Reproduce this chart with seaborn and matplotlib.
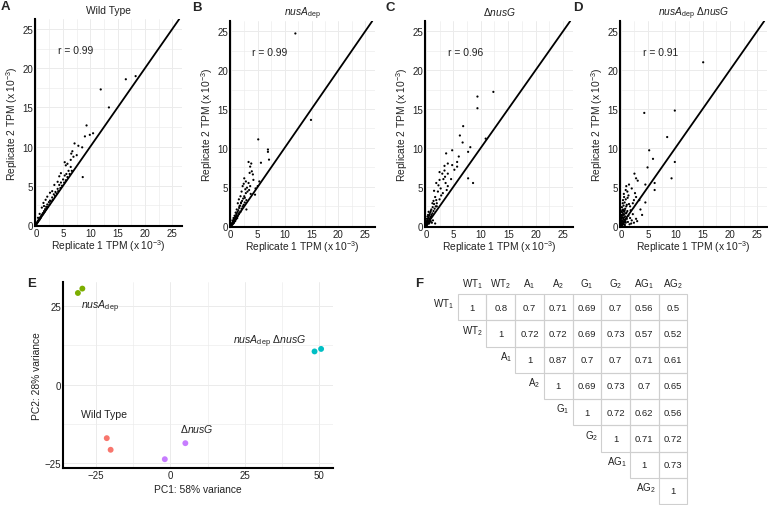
import numpy as np
import pandas as pd
import matplotlib
matplotlib.use('Agg')
import matplotlib.pyplot as plt
import seaborn as sns
from matplotlib.colors import ListedColormap
from matplotlib.patches import Rectangle
from matplotlib.ticker import MultipleLocator

sns.set_theme(style='white')
plt.rcParams['font.family'] = ['Liberation Sans', 'DejaVu Sans']
plt.rcParams['mathtext.fontset'] = 'custom'
plt.rcParams['mathtext.rm'] = 'Liberation Sans'
plt.rcParams['mathtext.it'] = 'Liberation Sans:italic'
plt.rcParams['mathtext.bf'] = 'Liberation Sans:bold'

# ---------------- data: replicate scatter (TPM x 10^-3) ----------------
wt_x = [0.05,0.1,0.15,0.2,0.25,0.3,0.35,0.4,0.45,0.5,0.55,0.6,0.65,0.7,0.75,0.8,0.85,0.9,0.95,1.0,
        1.1,1.2,1.3,1.4,1.5,1.6,1.7,1.8,1.9,2.0,2.1,2.2,2.4,2.5,2.6,2.8,3.0,3.1,3.3,3.5,3.6,3.8,
        4.0,4.1,4.3,4.5,4.6,4.8,5.0,5.2,5.3,5.5,5.6,5.8,6.0,6.2,6.4,6.6,6.7,6.9,7.1,7.5,7.8,8.5,
        8.6,9.0,9.3,9.9,10.5,11.9,13.4,16.5,18.3,5.3,5.5,5.8,6.4,6.5,4.6,4.3,4.0,3.4,3.0,2.1,1.4,
        2.6,1.8,1.1,0.7,0.4,1.5]
wt_y = [0.08,0.15,0.12,0.25,0.3,0.28,0.45,0.38,0.55,0.5,0.65,0.6,0.75,0.68,0.85,0.8,1.0,0.9,1.1,1.05,
        1.3,1.25,1.5,1.45,1.75,1.65,2.0,1.9,2.3,2.1,2.6,2.3,2.9,2.6,3.1,3.0,3.5,3.2,3.9,3.7,4.2,4.0,
        4.6,4.3,5.1,4.7,5.4,5.0,5.8,5.4,6.3,5.7,6.5,6.1,6.9,6.5,7.4,6.9,9.4,8.7,10.4,8.9,10.1,9.9,
        6.1,11.3,12.7,11.5,11.7,17.3,15.0,18.6,19.0,8.0,7.6,7.8,8.3,9.1,6.6,6.2,5.5,5.1,4.3,3.6,2.8,
        4.1,3.2,2.2,1.4,0.9,2.4]

nusa_x = [0.05,0.1,0.15,0.2,0.25,0.3,0.35,0.4,0.45,0.5,0.55,0.6,0.65,0.7,0.75,0.8,0.85,0.9,0.95,1.0,
          1.05,1.1,1.2,1.25,1.3,1.4,1.5,1.55,1.6,1.7,1.8,1.9,2.0,2.1,2.2,2.3,2.4,2.5,2.6,2.8,2.9,
          0.3,0.5,0.7,0.9,12.0,14.9,5.1,6.9,6.9,7.1,5.6,3.3,3.8,3.6,3.9,3.5,4.1,2.5,2.8,3.3,3.6,
          2.2,2.7,3.1,4.5,5.3,5.0,1.1,1.6,1.9,2.9,3.0,2.4,2.0,1.8,1.5,1.3,2.6,3.4,4.2,4.6,3.7,1.2,0.8,
          0.2,0.4,0.6,0.8,1.0,0.15,0.35,0.55]
nusa_y = [0.1,0.15,0.1,0.3,0.2,0.4,0.3,0.55,0.4,0.6,0.5,0.8,0.6,0.9,0.7,1.1,0.8,1.2,0.9,1.4,
          1.0,1.6,1.2,1.8,1.3,2.0,1.5,2.3,1.7,2.6,1.8,2.9,2.2,3.2,2.5,3.5,2.7,3.8,3.0,4.2,3.3,
          0.7,1.0,1.3,1.7,24.7,13.6,11.1,9.8,9.5,8.5,8.1,8.2,8.0,7.6,7.0,6.8,6.6,6.1,5.7,5.5,5.1,
          5.1,4.7,4.4,4.0,5.7,5.1,2.1,2.5,3.0,2.1,4.9,5.4,4.4,3.8,3.4,2.9,3.6,4.6,5.9,4.8,4.1,1.0,0.6,
          0.15,0.35,0.45,0.65,0.85,0.25,0.2,0.35]

nusg_x = [0.05,0.1,0.15,0.2,0.25,0.3,0.35,0.4,0.45,0.5,0.55,0.6,0.65,0.7,0.75,0.8,0.85,0.9,0.95,1.0,
          1.05,1.1,1.2,1.25,1.3,1.4,1.5,1.6,1.7,1.8,1.9,2.0,0.2,0.4,0.6,0.9,0.3,0.5,
          12.3,9.4,9.4,6.8,6.2,6.7,8.1,7.7,4.8,3.7,6.0,4.0,5.7,5.7,4.8,3.4,3.4,2.5,3.0,4.0,3.5,
          2.5,1.9,3.6,2.7,2.2,4.0,3.1,1.7,2.5,1.2,2.0,7.7,8.6,10.9,3.2,2.3,1.5,2.8,1.4,3.8,4.6,5.2,
          0.1,0.25,0.45,0.7,0.15,0.35]
nusg_y = [0.1,0.3,0.1,0.5,0.25,0.7,0.4,0.9,0.5,1.1,0.6,1.3,0.8,1.5,0.9,1.7,1.1,1.9,1.2,2.1,
          1.4,0.4,1.6,2.4,0.7,1.9,2.8,2.2,0.3,2.5,3.3,2.9,0.9,1.4,0.3,0.6,1.2,1.8,
          17.2,16.6,15.1,12.8,11.6,10.7,10.1,9.5,9.7,9.3,8.9,8.0,8.2,7.6,7.8,7.7,7.1,6.9,6.7,6.7,6.3,
          5.9,5.5,5.5,4.8,4.4,5.1,4.2,3.7,3.4,2.9,2.5,6.1,5.5,11.2,6.0,5.2,4.5,3.9,3.2,4.6,6.0,7.2,
          0.2,0.15,0.3,0.45,0.6,0.55]

dbl_x = [0.05,0.1,0.15,0.2,0.25,0.3,0.35,0.4,0.45,0.5,0.55,0.6,0.65,0.7,0.75,0.8,0.85,0.9,0.95,1.0,
         1.1,1.2,1.3,1.4,1.5,1.6,1.7,1.8,2.0,2.2,2.4,0.1,0.2,0.3,0.4,0.5,0.6,0.7,0.8,0.9,0.35,0.15,
         1.1,1.25,0.55,0.75,1.9,2.8,3.0,0.05,0.1,0.2,0.3,0.45,0.65,0.25,0.5,0.85,1.05,0.4,0.6,
         15.1,4.3,9.9,8.5,5.2,5.9,4.9,9.9,9.3,6.2,6.2,4.5,4.5,2.5,2.8,3.1,1.5,2.0,0.9,1.4,0.6,2.8,
         3.4,2.2,1.2,2.6,3.6,1.0,1.7,3.9,2.4]
dbl_y = [0.2,0.5,0.9,1.3,0.3,1.7,0.6,2.1,1.0,2.6,1.4,0.2,1.8,3.0,0.8,2.2,1.2,0.4,1.6,2.5,
         0.9,1.9,0.5,1.3,2.8,0.2,1.0,2.0,0.7,1.5,0.4,1.1,2.4,0.1,3.3,0.8,1.5,2.0,0.5,3.4,2.9,1.8,
         2.7,3.6,4.1,0.1,0.3,0.9,0.6,0.6,1.4,0.7,1.1,0.3,0.5,2.0,1.9,0.6,1.7,1.5,1.1,
         21.0,14.5,14.8,11.4,9.7,8.6,7.5,8.2,6.1,5.5,4.6,5.3,3.0,6.7,6.1,5.8,5.3,4.8,4.6,3.9,3.7,3.7,
         3.3,2.9,4.4,4.2,2.1,5.1,2.5,1.4,3.3]

panel_titles = ['Wild Type', r'$\it{nusA}_{\rm dep}$', r'$\Delta\it{nusG}$',
                r'$\it{nusA}_{\rm dep}\ \Delta\it{nusG}$']
panel_r = ['r = 0.99', 'r = 0.99', 'r = 0.96', 'r = 0.91']
panel_letters = ['A', 'B', 'C', 'D']
scatter_x = [wt_x, nusa_x, nusg_x, dbl_x]
scatter_y = [wt_y, nusa_y, nusg_y, dbl_y]

# ---------------- data: PCA ----------------
pc_group = ['Wild Type', 'Wild Type', 'nusA', 'nusA', 'nusG', 'nusG', 'AG', 'AG']
pc1 = [-21.4, -20.1, -31.1, -29.6, -1.9, 5.0, 48.4, 50.6]
pc2 = [-17.0, -20.7, 29.2, 30.6, -23.7, -18.6, 10.6, 11.4]
group_colors = {'Wild Type': '#F8766D', 'nusA': '#7CAE00', 'AG': '#00BFC4', 'nusG': '#C77CFF'}

# ---------------- data: correlation table ----------------
corr_labels = ['WT$_1$', 'WT$_2$', 'A$_1$', 'A$_2$', 'G$_1$', 'G$_2$', 'AG$_1$', 'AG$_2$']
corr_rows = [
    [1, 0.8, 0.7, 0.71, 0.69, 0.7, 0.56, 0.5],
    [None, 1, 0.72, 0.72, 0.69, 0.73, 0.57, 0.52],
    [None, None, 1, 0.87, 0.7, 0.7, 0.71, 0.61],
    [None, None, None, 1, 0.69, 0.73, 0.7, 0.65],
    [None, None, None, None, 1, 0.72, 0.62, 0.56],
    [None, None, None, None, None, 1, 0.71, 0.72],
    [None, None, None, None, None, None, 1, 0.73],
    [None, None, None, None, None, None, None, 1],
]

W, H = 768, 506
fig = plt.figure(figsize=(W / 100, H / 100), dpi=100)
fig.patch.set_facecolor('white')


def rect(l, t, r, b):
    return [l / W, 1 - b / H, (r - l) / W, (b - t) / H]


GRID = '#ebebeb'
TXT = '#222222'


def style_axes(ax):
    for s in ['top', 'right']:
        ax.spines[s].set_visible(False)
    for s in ['left', 'bottom']:
        ax.spines[s].set_visible(True)
        ax.spines[s].set_color('black')
        ax.spines[s].set_linewidth(1.5)
    ax.grid(True, which='major', color=GRID, lw=0.7)
    ax.grid(True, which='minor', color=GRID, lw=0.45)
    ax.set_axisbelow(True)
    ax.tick_params(which='both', length=0, labelsize=7, pad=1.5, colors=TXT)
    ax.set_facecolor('white')


boxes = [(35, 20, 182, 227), (230, 22, 375, 228), (425, 22, 573, 228), (620, 22, 767, 228)]
letter_pos = [(1, 7), (192, 8), (385, 8), (573, 8)]
for i in range(4):
    l, t, r, b = boxes[i]
    ax = fig.add_axes(rect(l, t, r, b))
    df = pd.DataFrame({'x': scatter_x[i], 'y': scatter_y[i]})
    sns.scatterplot(data=df, x='x', y='y', ax=ax, s=2.5, color='black', linewidth=0, edgecolor='none')
    ax.axline((0, 0), slope=1, color='black', lw=1.3)
    ax.set_xlim(-0.15, 26.8)
    ax.set_ylim(-0.15, 26.3)
    ax.xaxis.set_major_locator(MultipleLocator(5))
    ax.yaxis.set_major_locator(MultipleLocator(5))
    ax.xaxis.set_minor_locator(MultipleLocator(2.5))
    ax.yaxis.set_minor_locator(MultipleLocator(2.5))
    style_axes(ax)
    ax.set_xlabel(r'Replicate 1 TPM (x 10$^{-3}$)', fontsize=7.4, color=TXT)
    ax.set_ylabel(r'Replicate 2 TPM (x 10$^{-3}$)', fontsize=7.4, color=TXT)
    ax.xaxis.set_label_coords(0.5, -11 / (b - t))
    ax.yaxis.set_label_coords(-15 / (r - l), 0.5)
    ax.set_title(panel_titles[i], fontsize=7.4, pad=4, color=TXT)
    ax.text(4.0, 22.3, panel_r[i], fontsize=7.4, ha='left', va='center', color=TXT)
    lx, ly = letter_pos[i]
    fig.text(lx / W, 1 - ly / H, panel_letters[i], fontsize=9.5, fontweight='bold', ha='left', va='center')

# ---------------- Panel E: PCA ----------------
axE = fig.add_axes(rect(63, 283, 333, 469))
pdf = pd.DataFrame({'PC1': pc1, 'PC2': pc2, 'group': pc_group})
sns.scatterplot(data=pdf, x='PC1', y='PC2', hue='group', palette=group_colors, s=18,
                linewidth=0, edgecolor='none', ax=axE, legend=False)
axE.set_xlim(-36.1, 54.6)
axE.set_ylim(-26.5, 32.7)
axE.xaxis.set_minor_locator(MultipleLocator(12.5))
axE.yaxis.set_minor_locator(MultipleLocator(12.5))
style_axes(axE)
axE.set_xticks([-25, 0, 25, 50])
axE.set_xticklabels(['\u221225', '0', '25', '50'])
axE.set_yticks([-25, 0, 25])
axE.set_yticklabels(['\u221225', '0', '25'])
axE.set_xlabel('PC1: 58% variance', fontsize=7.4, color=TXT)
axE.set_ylabel('PC2: 28% variance', fontsize=7.4, color=TXT)
axE.xaxis.set_label_coords(0.5, -16 / 186)
axE.yaxis.set_label_coords(-21 / 270, 0.5)
axE.text(-30.2, 25.2, r'$\it{nusA}_{\rm dep}$', fontsize=7.6, ha='left', va='center', color=TXT)
axE.text(-30.0, -9.2, 'Wild Type', fontsize=7.6, ha='left', va='center', color=TXT)
axE.text(8.7, -13.8, r'$\Delta\it{nusG}$', fontsize=7.6, ha='center', va='center', color=TXT)
axE.text(33.2, 14.1, r'$\it{nusA}_{\rm dep}\ \Delta\it{nusG}$', fontsize=7.6, ha='center', va='center', color=TXT)
fig.text(27 / W, 1 - 284 / H, 'E', fontsize=9.5, fontweight='bold', ha='left', va='center')

# ---------------- Panel F: correlation table ----------------
axF = fig.add_axes(rect(457.7, 295, 687.3, 505))
mat = np.array([[np.nan if v is None else v for v in row] for row in corr_rows], dtype=float)
cdf = pd.DataFrame(mat, index=corr_labels, columns=corr_labels)
mask = np.isnan(mat)
sns.heatmap(cdf, mask=mask, cmap=ListedColormap(['white']), annot=True, fmt='g', cbar=False,
            linewidths=0, ax=axF, annot_kws={'fontsize': 6.8, 'color': '#222222'})
n = len(corr_labels)
for i in range(n):
    for j in range(n):
        if not mask[i, j]:
            axF.add_patch(Rectangle((j, i), 1, 1, fill=False, edgecolor='#cfcfcf',
                                    lw=0.8, clip_on=False, zorder=3))
axF.set_xticks([])
axF.set_yticks([])
axF.set_xlabel('')
axF.set_ylabel('')
for s in axF.spines.values():
    s.set_visible(False)
for j, lab in enumerate(corr_labels):
    axF.text(j + 0.5, -0.42, lab, ha='center', va='center', fontsize=7, color=TXT)
for i, lab in enumerate(corr_labels):
    axF.text(i - 0.12, i + 0.36, lab, ha='right', va='center', fontsize=7, color=TXT)
fig.text(415 / W, 1 - 284 / H, 'F', fontsize=9.5, fontweight='bold', ha='left', va='center')

fig.savefig('out.png', dpi=100, facecolor='white')
